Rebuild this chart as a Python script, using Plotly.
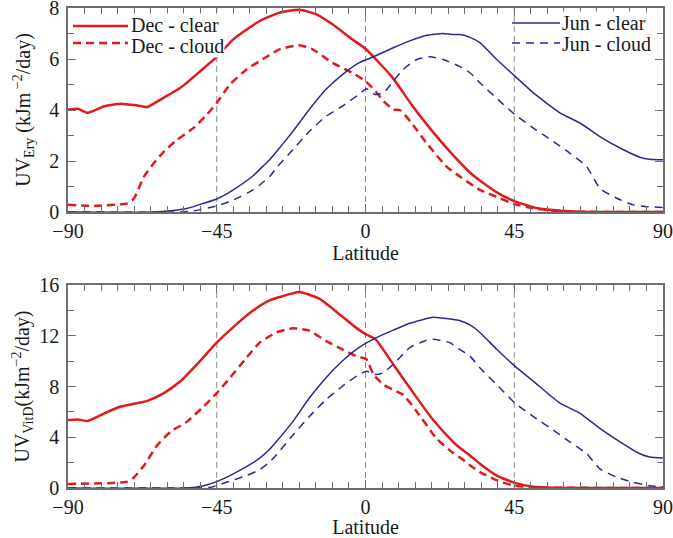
import plotly.graph_objects as go
from plotly.subplots import make_subplots

# ---- Erythemal UV (kJ m^-2 / day) ----
dec_clear_ery_lat = [-90, -87, -84, -79, -74, -69, -66, -62, -56, -50, -45, -40, -32, -26, -20, -15, -10, -4, 0,
                     8, 14, 20, 26, 32, 35, 40, 45, 52, 59, 65, 90]
dec_clear_ery = [4.02, 4.05, 3.89, 4.15, 4.25, 4.18, 4.12, 4.41, 4.87, 5.52, 6.08, 6.77, 7.49, 7.82, 7.93, 7.76, 7.36,
                 6.77, 6.4, 5.3, 4.2, 3.2, 2.3, 1.5, 1.2, 0.75, 0.43, 0.15, 0.05, 0.01, 0.0]

dec_cloud_ery_lat = [-90, -82, -72, -70, -67, -64, -61, -57, -52, -48, -45, -41, -36, -30, -26, -20, -16, -10, -4, 0,
                     3, 5.5, 8.5, 10.5, 13.5, 18.5, 24.5, 29, 34.6, 40.7, 45, 50.7, 57, 65, 90]
dec_cloud_ery = [0.28, 0.24, 0.34, 0.54, 1.39, 1.92, 2.37, 2.83, 3.3, 3.82, 4.28, 5.0, 5.59, 6.08, 6.38, 6.54, 6.38,
                 5.85, 5.46, 5.13, 4.74, 4.34, 4.02, 3.99, 3.56, 2.7, 1.78, 1.35, 0.87, 0.54, 0.31, 0.15, 0.05, 0.01, 0.0]

jun_clear_ery_lat = [-90, -64, -59, -54, -49, -45, -40, -34, -31, -29, -27, -22, -17, -12, -7, -2, 2.4, 8.4, 13.4,
                     18.5, 23.5, 26, 28.6, 31.6, 34.6, 39.7, 45.2, 50.8, 58.8, 64.9, 70.9, 77, 83, 86, 90]
jun_clear_ery = [0, 0, 0.05, 0.14, 0.34, 0.51, 0.87, 1.42, 1.8, 2.05, 2.35, 3.16, 4.02, 4.8, 5.39, 5.85, 6.09, 6.44,
                 6.71, 6.93, 7.0, 6.96, 6.96, 6.85, 6.64, 5.98, 5.33, 4.67, 3.89, 3.49, 2.96, 2.51, 2.15, 2.07, 2.05]

jun_cloud_ery_lat = [-90, -56, -52, -45, -40, -34, -32, -29, -27, -22, -17, -12, -7, -2, 0.3, 2.9, 5.4, 8.4, 11.4,
                     15.5, 19.5, 23.5, 28.6, 31.6, 34.6, 40.7, 45.2, 50.8, 56.8, 61.8, 66.9, 70.9, 76, 81, 85, 90]
jun_cloud_ery = [0, 0, 0.04, 0.24, 0.47, 0.87, 1.06, 1.39, 1.72, 2.44, 3.16, 3.75, 4.15, 4.61, 4.83, 4.61, 4.67, 5.13,
                 5.59, 5.98, 6.09, 5.98, 5.7, 5.46, 5.07, 4.34, 3.82, 3.29, 2.77, 2.31, 1.78, 0.93, 0.54, 0.28, 0.21,
                 0.18]

# ---- Vitamin-D weighted UV (kJ m^-2 / day) ----
dec_clear_vitd_lat = [-90, -87, -84, -79, -74, -69, -66, -61, -56, -51, -45, -39, -34, -29, -26, -20, -14, -8, -3, 0,
                      3, 8.4, 14.5, 20.5, 26.5, 28.6, 31.6, 34.6, 39.7, 45.2, 50.8, 56, 90]
dec_clear_vitd = [5.36, 5.4, 5.28, 5.89, 6.42, 6.69, 6.87, 7.48, 8.41, 9.74, 11.46, 12.92, 13.99, 14.78, 15.05, 15.45,
                  14.92, 13.72, 12.66, 12.13, 11.73, 9.74, 7.48, 5.36, 3.64, 3.15, 2.57, 1.91, 0.98, 0.4, 0.1, 0.02, 0]

dec_cloud_vitd_lat = [-90, -72, -70, -67, -63, -59, -54, -49, -45, -41, -36, -32, -27, -22, -17, -12, -7, -3, 0.3,
                      2.4, 5.4, 9.4, 11.4, 15.5, 21.5, 26.5, 28.6, 31.6, 34.6, 40.7, 45.2, 51, 90]
dec_cloud_vitd = [0.32, 0.5, 0.85, 1.78, 3.37, 4.43, 5.23, 6.42, 7.48, 8.68, 10.27, 11.46, 12.26, 12.6, 12.4, 11.6,
                  10.93, 10.41, 10.14, 8.94, 8.15, 7.62, 7.35, 6.03, 3.9, 2.75, 2.4, 1.8, 1.25, 0.5, 0.18, 0.05, 0]

jun_clear_vitd_lat = [-90, -54, -49, -45, -40, -34, -32, -29, -27, -22, -17, -12, -7, -2, 3, 8.4, 13.4, 20.5, 25.5,
                      28.6, 31.6, 34.6, 39.7, 45.2, 50.8, 58.8, 64.9, 70.9, 77, 83, 86, 90]
jun_clear_vitd = [0, 0, 0.18, 0.5, 1.11, 2.0, 2.35, 3.05, 3.64, 5.23, 7.09, 8.68, 10.01, 11.07, 11.81, 12.44, 12.98,
                  13.46, 13.32, 13.19, 12.85, 12.26, 10.93, 9.61, 8.41, 6.69, 5.89, 4.7, 3.64, 2.7, 2.45, 2.36]

jun_cloud_vitd_lat = [-90, -52, -47, -42, -36, -32, -29, -27, -22, -17, -12, -7, -2, 0.3, 2.9, 5.4, 9.4, 13.4, 18.5,
                      20.5, 25.5, 28.6, 31.6, 34.6, 40.7, 45.2, 50.8, 56.8, 61.8, 66.9, 70.9, 76, 81, 86, 90]
jun_cloud_vitd = [0, 0, 0.05, 0.45, 0.98, 1.45, 2.05, 2.6, 4.16, 5.63, 6.95, 8.02, 8.94, 9.21, 8.94, 9.08, 10.01,
                  11.07, 11.65, 11.73, 11.46, 10.9, 10.4, 9.47, 7.88, 6.69, 5.63, 4.56, 3.64, 2.7, 1.51, 0.85, 0.45,
                  0.18, 0.1]

lat_ticks = [-90, -45, 0, 45, 90]
ref_lats = [-45, 0, 45]

RED = "#e31a1c"
BLUE = "#2b2b8c"
AXIS = "#6e6e6e"
FONT = "Liberation Serif"
TXT = "#1a1a1a"

series_style = {
    "Dec - clear": dict(color=RED, width=2.5, dash="solid"),
    "Dec - cloud": dict(color=RED, width=2.5, dash="8px,5px"),
    "Jun - clear": dict(color=BLUE, width=1.5, dash="solid"),
    "Jun - cloud": dict(color=BLUE, width=1.5, dash="8px,6px"),
}

panels = [
    (1, {"Dec - clear": (dec_clear_ery_lat, dec_clear_ery),
         "Dec - cloud": (dec_cloud_ery_lat, dec_cloud_ery),
         "Jun - clear": (jun_clear_ery_lat, jun_clear_ery),
         "Jun - cloud": (jun_cloud_ery_lat, jun_cloud_ery)}),
    (2, {"Dec - clear": (dec_clear_vitd_lat, dec_clear_vitd),
         "Dec - cloud": (dec_cloud_vitd_lat, dec_cloud_vitd),
         "Jun - clear": (jun_clear_vitd_lat, jun_clear_vitd),
         "Jun - cloud": (jun_cloud_vitd_lat, jun_cloud_vitd)}),
]

fig = make_subplots(rows=2, cols=1, vertical_spacing=0.152)

for row, data in panels:
    for name, (lat, val) in data.items():
        fig.add_trace(go.Scatter(x=lat, y=val, mode="lines", name=name, showlegend=False,
                                 line=dict(shape="spline", smoothing=0.5, **series_style[name])),
                      row=row, col=1)
    sfx = "" if row == 1 else str(row)
    for lx in ref_lats:
        fig.add_shape(type="line", x0=lx, x1=lx, y0=0, y1=1, xref=f"x{sfx}", yref=f"y{sfx} domain",
                      layer="below", line=dict(color="#8a8a8a", width=1, dash="6px,4px"))

axis_common = dict(showline=True, linecolor=AXIS, linewidth=1.5, mirror="allticks",
                   ticks="inside", tickcolor=AXIS, tickwidth=1.2, ticklen=8,
                   showgrid=False, zeroline=False, automargin=False, ticklabeloverflow="allow",
                   tickfont=dict(family=FONT, size=20, color=TXT))

for row in (1, 2):
    fig.update_xaxes(range=[-90, 90], tickvals=lat_ticks,
                     ticktext=[str(t).replace("-", "\u2212") for t in lat_ticks],
                     minor=dict(dtick=5, ticks="inside", ticklen=6, tickcolor=AXIS, tickwidth=1.2),
                     title=dict(text="Latitude", font=dict(family=FONT, size=20, color=TXT), standoff=0),
                     ticklabelstandoff=0,
                     row=row, col=1, **axis_common)

fig.update_yaxes(range=[0, 8], dtick=2, minor=dict(dtick=1, ticks="inside", ticklen=6, tickcolor=AXIS, tickwidth=1.2),
                 title=dict(text="UV<sub>Ery</sub> (kJm<sup> \u22122</sup>/day)",
                            font=dict(family=FONT, size=20, color=TXT), standoff=13),
                 ticklabelstandoff=3, row=1, col=1, **axis_common)
fig.update_yaxes(range=[0, 16], dtick=4, minor=dict(dtick=2, ticks="inside", ticklen=6, tickcolor=AXIS, tickwidth=1.2),
                 title=dict(text="UV<sub>VitD</sub>(kJm<sup>\u22122</sup>/day)",
                            font=dict(family=FONT, size=20, color=TXT), standoff=4),
                 ticklabelstandoff=3, row=2, col=1, **axis_common)

fig.update_layout(xaxis=dict(domain=[0, 1]), yaxis=dict(domain=[0.575, 1.0]),
                  xaxis2=dict(domain=[0, 1]), yaxis2=dict(domain=[0.0, 0.4229]))

# Key for the four series, placed inside the upper panel
W, H, L, B = 595, 480, 68, 50


def px(xp):
    return (xp - L) / W


def py(yp):
    return (538 - B - yp) / H


key = [
    # name, line start, line end, line y, text x, text y
    ("Dec - clear", 73, 128, 26, 130, 25),
    ("Dec - cloud", 73, 128, 43, 130, 46),
    ("Jun - clear", 512, 560, 23, 561, 23),
    ("Jun - cloud", 512, 560, 43, 561, 44),
]
for name, xa, xb, yl, xt, yt in key:
    st = series_style[name]
    fig.add_annotation(text=name, x=px(xt), y=py(yt), xref="paper", yref="paper",
                       xanchor="left", yanchor="middle", showarrow=False, bgcolor="white", borderpad=0,
                       font=dict(family=FONT, size=20, color=TXT))
    fig.add_shape(type="line", x0=px(xa), x1=px(xb), y0=py(yl), y1=py(yl), xref="paper", yref="paper",
                  layer="above", line=dict(color=st["color"], width=st["width"], dash=st["dash"]))

fig.update_layout(width=673, height=538, margin=dict(l=L, r=10, t=8, b=B, autoexpand=False),
                  plot_bgcolor="white", paper_bgcolor="white", showlegend=False,
                  font=dict(family=FONT, size=20, color=TXT))

fig.write_html("out.html")
